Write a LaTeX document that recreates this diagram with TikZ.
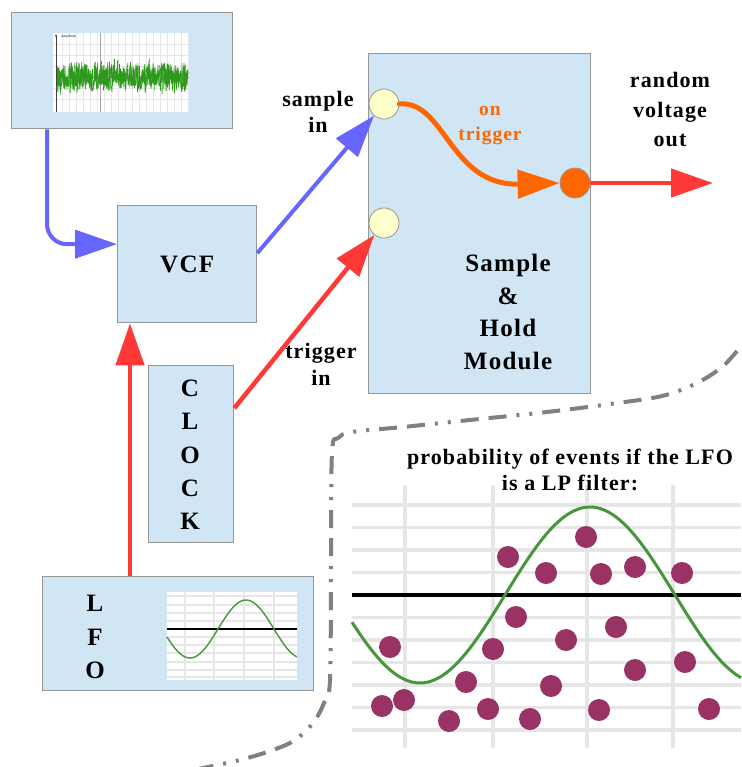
\documentclass[tikz,border=0pt]{standalone}
\usepackage{fontspec}
\setmainfont{Liberation Serif}
\newfontfamily\lblfont[LetterSpace=5]{Liberation Serif}
\usetikzlibrary{arrows.meta}

\definecolor{boxfill}{RGB}{209,230,245}
\definecolor{boxline}{RGB}{150,150,150}
\definecolor{sigblue}{RGB}{102,102,255}
\definecolor{sigred}{RGB}{255,56,56}
\definecolor{sigorange}{RGB}{255,102,0}
\definecolor{jackfill}{RGB}{255,255,204}
\definecolor{dotcol}{RGB}{153,51,102}
\definecolor{curvegreen}{RGB}{70,150,60}
\definecolor{noisegreen}{RGB}{45,155,25}
\definecolor{gridgray}{RGB}{230,230,230}
\definecolor{framegray}{RGB}{128,128,128}

\tikzset{
  box/.style={draw=boxline, fill=boxfill, line width=1.3pt, inner sep=0pt, anchor=north west},
  jack/.style={circle, draw=boxline, line width=0.8pt, fill=jackfill, minimum size=30pt, inner sep=0pt},
  outjack/.style={circle, draw=boxline, line width=0.8pt, fill=sigorange, minimum size=30pt, inner sep=0pt},
  lbl/.style={inner sep=0pt, align=center, font=\lblfont\bfseries\fontsize{22}{26}\selectfont},
  biglbl/.style={inner sep=0pt, align=center, font=\lblfont\bfseries\fontsize{25}{32.5}\selectfont},
  bighead/.style={-{Triangle[length=42pt,width=28pt]}},
  bluewire/.style={draw=sigblue, line width=4pt, bighead},
  redwire/.style={draw=sigred, line width=4.5pt, bighead},
  orangewire/.style={draw=sigorange, line width=5pt, line cap=round, bighead},
  gridline/.style={draw=gridgray, line width=3.5pt},
  thingrid/.style={draw=gridgray, line width=1.1pt},
  probdot/.style={fill=dotcol},
  framecurve/.style={draw=framegray, line width=4pt,
    dash pattern=on 18pt off 10pt on 18pt off 10pt on 3pt off 10pt on 3pt off 10pt}
}

\begin{document}
\begin{tikzpicture}[x=1pt, y=-1pt]
\useasboundingbox (0,0) rectangle (741,767);

% ---------- boxes ----------
\node[box, minimum width=221pt, minimum height=116pt] (noise) at (11,12) {};
\node[box, minimum width=139pt, minimum height=117pt] (vcf) at (117,205) {};
\node[box, minimum width=222pt, minimum height=340pt] (sh) at (368,53) {};
\node[box, minimum width=85pt, minimum height=177pt] (clock) at (148,365) {};
\node[box, minimum width=271pt, minimum height=114pt] (lfo) at (42,576) {};

% ---------- noise plot ----------
\fill[white] (53,33) rectangle (189,112);
\foreach \gx in {62,69,...,188} \draw[draw=gridgray, line width=0.8pt] (\gx,33) -- (\gx,112);
\foreach \gy in {44,55,66,88,99} \draw[draw=gridgray, line width=0.8pt] (53,\gy) -- (189,\gy);
\draw[draw=gray!70, line width=0.8pt] (100,33) -- (100,112);
\draw[draw=gray!80, line width=0.6pt] (56,77) -- (189,77);
\pgfmathsetseed{4242}
\draw[noisegreen!70!gray, line width=0.5pt] plot[samples=260, domain=57:188] (\x, {77 + 11*rand + 6*rand});
\draw[noisegreen, line width=0.8pt] plot[samples=420, domain=57:188] (\x, {77 + 12*rand + 7*rand});
\draw[draw=gray!50!black, line width=0.8pt, -{Stealth[length=3pt]}] (56,112) -- (56,34);
\node[inner sep=0pt, font=\fontsize{3.5}{4}\selectfont, anchor=west] (amp) at (61,37) {Amplitude};

% ---------- LFO mini plot ----------
\fill[white] (167,592) rectangle (297,680);
\foreach \gy in {596,605,613,621,637,645,653,662,670,677} \draw[thingrid] (167,\gy) -- (297,\gy);
\foreach \gx in {185,214,244,274} \draw[draw=gridgray, line width=1.5pt] (\gx,592) -- (\gx,680);
\draw[black, line width=2.3pt] (167,629) -- (297,629);
\draw[curvegreen, line width=1.4pt] plot[samples=80, domain=167:297] (\x, {629 - 29*cos(3.2143*(\x-246))});

% ---------- jacks ----------
\node[jack] (sin) at (384,104) {};
\node[jack] (tin) at (384,223) {};
\node[outjack] (sout) at (575,183) {};
\coordinate (outtip) at (713,183);
\coordinate (lfox) at (130,0);
\coordinate (noisex) at (47,0);

% ---------- connections ----------
\draw[bluewire, rounded corners=20pt] (noisex |- noise.south) |- ([yshift=20pt]vcf.west);
\draw[bluewire] ([yshift=11pt]vcf.east) -- (sin);
\draw[redwire] ([yshift=46pt]clock.east) -- (tin);
\draw[redwire] (lfox |- lfo.north) -- (lfox |- vcf.south);
\draw[orangewire] (sin.east) .. controls (445,100) and (450,186) .. (sout.west);
\draw[redwire] (sout.east) -- (outtip);

% ---------- labels ----------
\node[biglbl] (vcftext) at (vcf.center) {VCF};
\node[biglbl] (shtext) at (508,312) {Sample\\\&\\Hold\\Module};
\node[biglbl, font=\lblfont\bfseries\fontsize{25}{33.3}\selectfont] (clocktext) at (190,455) {C\\L\\O\\C\\K};
\node[biglbl, font=\lblfont\bfseries\fontsize{25}{33.5}\selectfont] (lfotext) at (95,637) {L\\F\\O};
\node[lbl] (sampin) at (318,112) {sample\\in};
\node[lbl, font=\lblfont\bfseries\fontsize{22}{27}\selectfont] (trigin) at (321,364) {trigger\\in};
\node[lbl, font=\lblfont\bfseries\fontsize{22}{29.5}\selectfont] (rvout) at (670,110) {random\\voltage\\out};
\node[lbl, text=sigorange, font=\lblfont\bfseries\fontsize{19.5}{25}\selectfont] (ontrig) at (490,126) {on\\trigger};

% ---------- dash-dot frame ----------
\draw[framecurve] plot[smooth, tension=0.55] coordinates {
  (737,351) (722,367) (697,383) (662,396) (610,404) (547,412) (470,420)
  (403,427) (352,432) (338,438) (332,452) (331,560) (330,680) (324,703)
  (313,723) (295,740) (273,750) (240,760) (198,769)};

% ---------- probability chart ----------
\foreach \gx in {405,493,587,673} \draw[gridline] (\gx,485) -- (\gx,748);
\foreach \gy in {505,527.5,550,572.5,617.5,640,662.5,685,707.5,730} \draw[gridline] (352,\gy) -- (741,\gy);
\draw[black, line width=4pt] (352,595) -- (741,595);
\draw[curvegreen, line width=3pt] plot[samples=120, domain=352:741] (\x, {595 - 88*cos(1.05882*(\x-590))});
\foreach \dx/\dy in {508/557, 586/537, 546/573, 601/574, 635/567, 682/573,
  516/617, 616/627, 566/640, 493/649, 390/647, 685/662, 635/670, 466/682,
  551/686, 382/706, 404/700, 488/709, 449/721, 530/719, 599/710, 709/709}
  \fill[probdot] (\dx,\dy) circle (11pt);
\node[lbl, font=\lblfont\bfseries\fontsize{22}{26}\selectfont] (probtitle) at (570,470) {probability of events if the LFO\\is a LP filter:};

\end{tikzpicture}
\end{document}
